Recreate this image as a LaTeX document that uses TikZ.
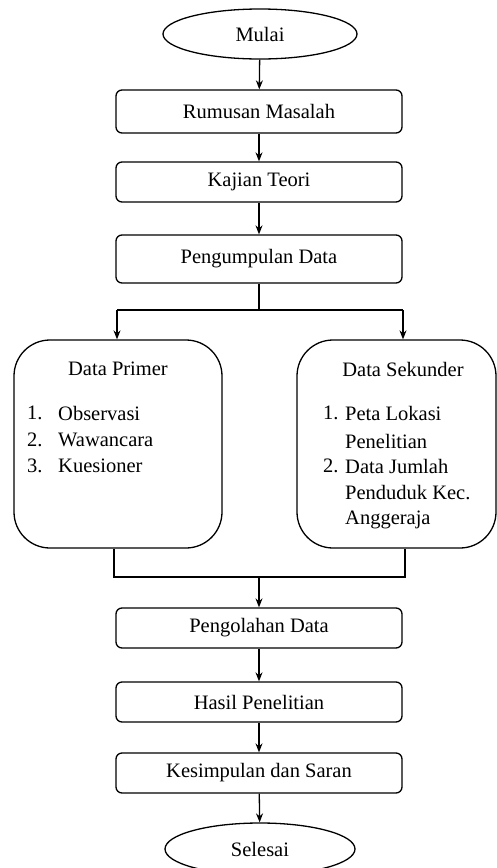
\documentclass[tikz,border=0pt]{standalone}
\usepackage{fontspec}
\setmainfont{Liberation Serif}
\usetikzlibrary{shapes.geometric,arrows.meta}
\begin{document}
\begin{tikzpicture}[x=1pt,y=-1pt,
  every node/.style={font=\fontsize{20.5}{24}\selectfont, inner sep=0pt},
  term/.style={draw, ellipse, line width=1.3pt, minimum width=194, minimum height=50},
  proc/.style={draw, rounded corners=6, line width=1.3pt, minimum width=286},
  bigbox/.style={draw, rounded corners=36, line width=1.3pt, minimum height=208},
  txt/.style={anchor=west},
  arr/.style={line width=1.3pt, -{Stealth[length=9pt,width=7pt]}},
  ln/.style={line width=1.3pt}]
\useasboundingbox (0,0) rectangle (497,868);
\node[term] (mulai) at (260,34) {Mulai};
\node[proc, minimum height=43] (rumusan) at (259,111.5) {Rumusan Masalah};
\node[proc, minimum height=40] (kajian) at (259,182) {Kajian Teori};
\node[proc, minimum height=48] (kumpul) at (259,259) {Pengumpulan Data};
\node[bigbox, minimum width=208] (primer) at (118,444) {};
\node[bigbox, minimum width=199] (sekunder) at (396.5,444) {};
\node[proc, minimum height=40] (olah) at (259,628) {Pengolahan Data};
\node[proc, minimum height=40] (hasil) at (259,702) {Hasil Penelitian};
\node[proc, minimum height=40] (simpul) at (259,773) {Kesimpulan dan Saran};
\node[term, minimum width=190, minimum height=52] (selesai) at (260,849) {Selesai};

\node (tprimer) at (118,369) {Data Primer};
\node[txt] (p1n) at (27,413) {1.};
\node[txt] (p1) at (58,413) {Observasi};
\node[txt] (p2n) at (27,440) {2.};
\node[txt] (p2) at (58,440) {Wawancara};
\node[txt] (p3n) at (27,466) {3.};
\node[txt] (p3) at (58,466) {Kuesioner};

\node (tsek) at (403,369) {Data Sekunder};
\node[txt] (s1n) at (323,413) {1.};
\node[txt] (s1a) at (345,413) {Peta Lokasi};
\node[txt] (s1b) at (345,441) {Penelitian};
\node[txt] (s2n) at (323,466) {2.};
\node[txt] (s2a) at (345,466) {Data Jumlah};
\node[txt] (s2b) at (345,493) {Penduduk Kec.};
\node[txt] (s2c) at (345,520) {Anggeraja};

\coordinate (split) at (259,310);
\coordinate (sl) at (117,310);
\coordinate (sr) at (403,310);
\coordinate (jl) at (114,577);
\coordinate (jr) at (405,577);
\coordinate (jm) at (259,577);

\draw[arr] (mulai) -- (rumusan);
\draw[arr] (rumusan) -- (kajian);
\draw[arr] (kajian) -- (kumpul);
\draw[ln] (kumpul.south) -- (split);
\draw[arr] (sl) -- (sl |- primer.north);
\draw[arr] (sr) -- (sr |- sekunder.north);
\draw[ln] (sl) -- (sr);
\draw[ln] (jl |- primer.south) -- (jl) -- (jr) -- (jr |- sekunder.south);
\draw[arr] (jm) -- (olah.north);
\draw[arr] (olah) -- (hasil);
\draw[arr] (hasil) -- (simpul);
\draw[arr] (simpul) -- (selesai);
\end{tikzpicture}
\end{document}
